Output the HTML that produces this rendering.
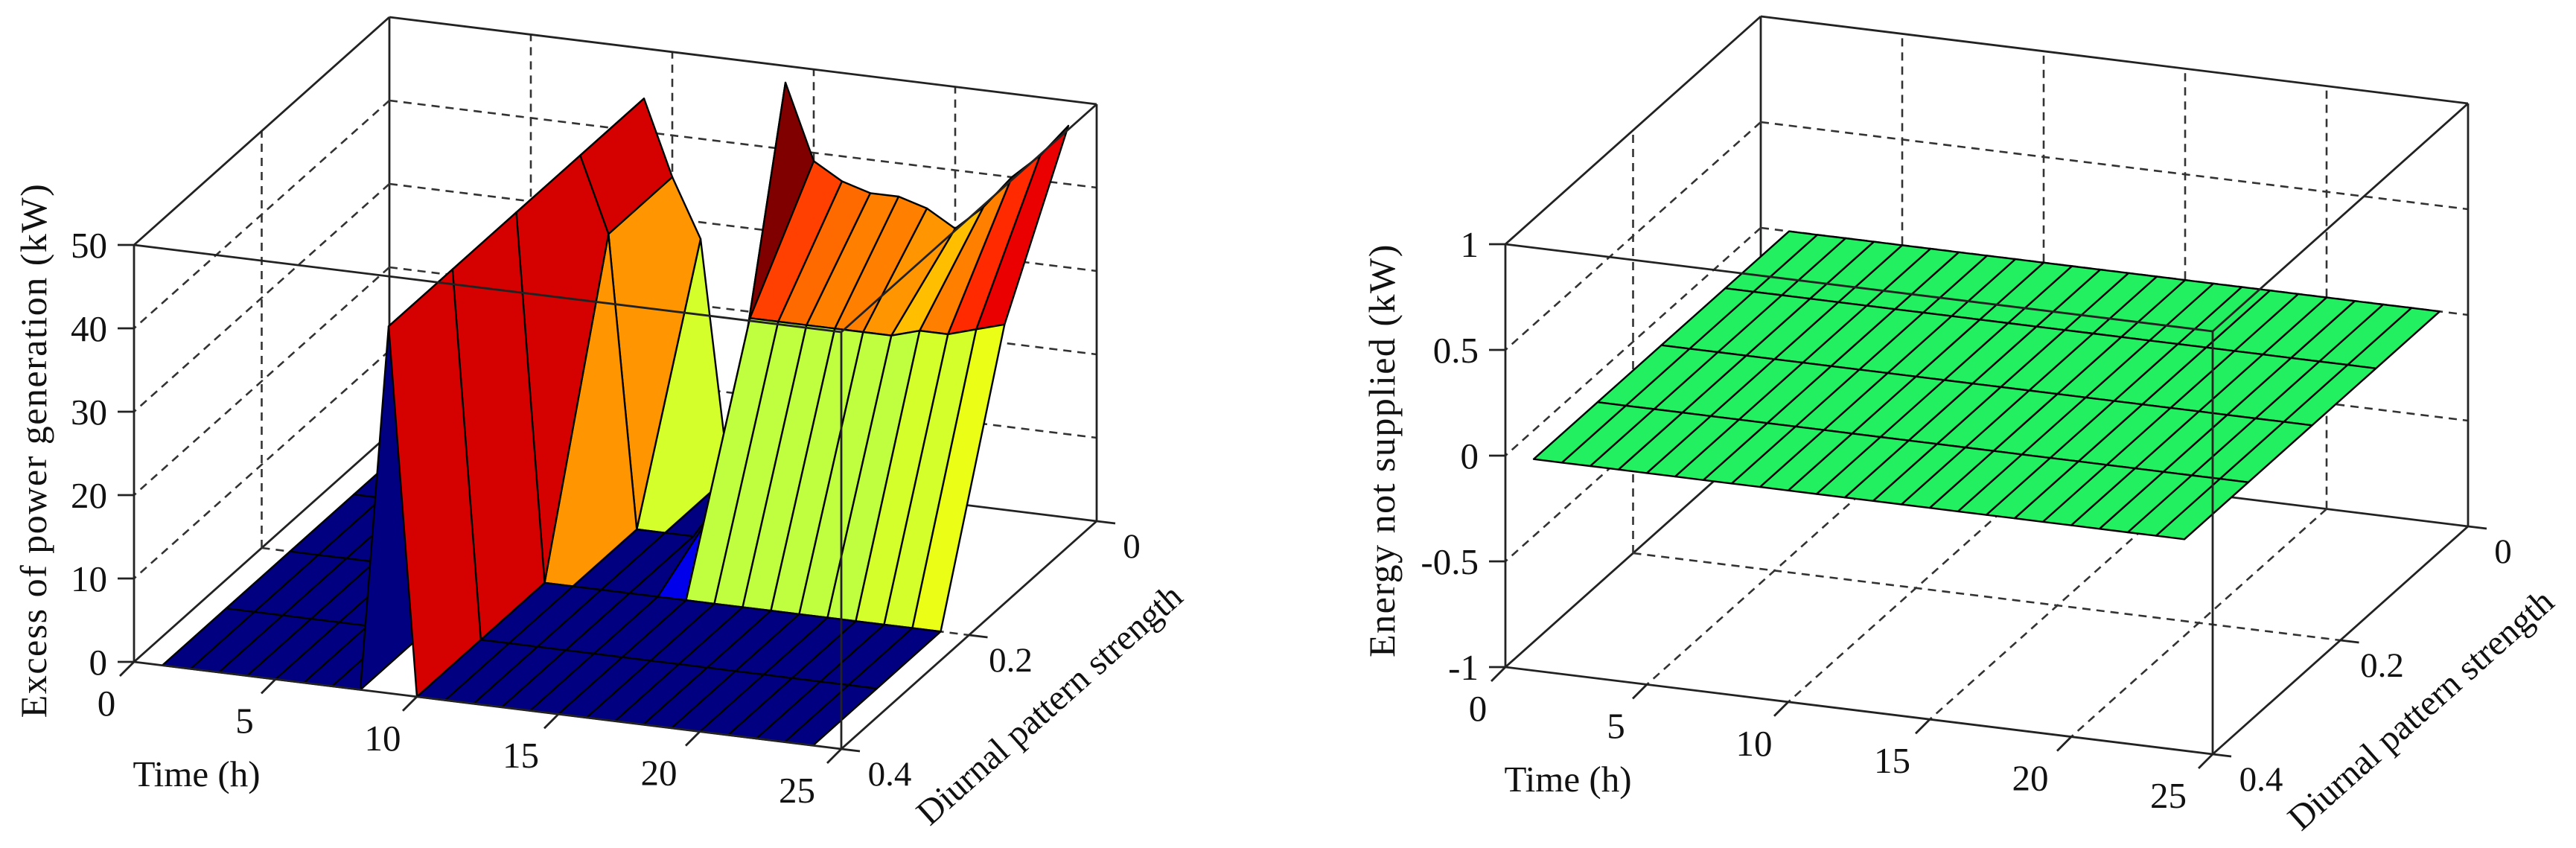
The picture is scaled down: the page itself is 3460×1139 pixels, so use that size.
<!DOCTYPE html>
<html>
<head>
<meta charset="utf-8">
<style>
  html,body{margin:0;padding:0;background:#fff;}
  svg{display:block;font-family:"Liberation Serif","DejaVu Serif",serif;}
</style>
</head>
<body>
<svg id="fig" width="3460" height="1139" viewBox="0 0 3460 1139" xmlns="http://www.w3.org/2000/svg">
  <rect x="0" y="0" width="3460" height="1139" fill="#fff"/>
  <g id="left-chart"></g>
  <g id="right-chart"></g>
</svg>
<script>
// ---------- data ----------
const timeHours = [1,2,3,4,5,6,7,8,9,10,11,12,13,14,15,16,17,18,19,20,21,22,23,24];
const strengths = [0, 0.1, 0.2, 0.3, 0.4];
const excessD00 = [0,0,0,0,0,0,0,0,44,35,28,0,0,48,39,37,36,36,35,33,36,40,43,47];
const excessD01 = [0,0,0,0,0,0,0,0,44,35,0,0,0,5,27,27,27,27,27,27,28,28,29,30];
const excessD02 = [0,0,0,0,0,0,0,0,44,0,0,0,0,0,0,0,0,0,0,0,0,0,0,0];
const excessD03 = [0,0,0,0,0,0,0,0,44,0,0,0,0,0,0,0,0,0,0,0,0,0,0,0];
const excessD04 = [0,0,0,0,0,0,0,0,44,0,0,0,0,0,0,0,0,0,0,0,0,0,0,0];
const ensD00 = [0,0,0,0,0,0,0,0,0,0,0,0,0,0,0,0,0,0,0,0,0,0,0,0];
const ensD01 = [0,0,0,0,0,0,0,0,0,0,0,0,0,0,0,0,0,0,0,0,0,0,0,0];
const ensD02 = [0,0,0,0,0,0,0,0,0,0,0,0,0,0,0,0,0,0,0,0,0,0,0,0];
const ensD03 = [0,0,0,0,0,0,0,0,0,0,0,0,0,0,0,0,0,0,0,0,0,0,0,0];
const ensD04 = [0,0,0,0,0,0,0,0,0,0,0,0,0,0,0,0,0,0,0,0,0,0,0,0];
const timeTicks = [0,5,10,15,20,25];
const strengthTicks = [0,0.2,0.4];
const strengthTickLabels = ["0","0.2","0.4"];
const excessTicks = [0,10,20,30,40,50];
const excessTickLabels = ["0","10","20","30","40","50"];
const ensTicks = [-1,-0.5,0,0.5,1];
const ensTickLabels = ["-1","-0.5","0","0.5","1"];

const NS = "http://www.w3.org/2000/svg";
function mk(tag, attrs, parent){
  const e = document.createElementNS(NS, tag);
  for (const k in attrs) e.setAttribute(k, attrs[k]);
  parent.appendChild(e);
  return e;
}
function jet(v){
  v = Math.max(0, Math.min(1, v));
  const c = x => Math.round(255*Math.max(0, Math.min(1, x)));
  return "rgb(" + c(1.5-Math.abs(4*v-3)) + "," + c(1.5-Math.abs(4*v-2)) + "," + c(1.5-Math.abs(4*v-1)) + ")";
}

function drawChart(g, cfg){
  const O = cfg.origin, EX = [950,117], EY = [343,-306], EZ = [0, cfg.height];
  const tMax = 25, dMax = 0.4;
  function P(t, d, z){
    const ft = t/tMax, fd = (dMax-d)/dMax, fz = (z-cfg.zmin)/(cfg.zmax-cfg.zmin);
    return [O[0]+ft*EX[0]+fd*EY[0]+fz*EZ[0], O[1]+ft*EX[1]+fd*EY[1]+fz*EZ[1]];
  }
  const pstr = pts => pts.map(p => p[0].toFixed(1)+","+p[1].toFixed(1)).join(" ");
  function line(a, b, dashed, name, w){
    const l = mk("line", {x1:a[0].toFixed(1), y1:a[1].toFixed(1), x2:b[0].toFixed(1), y2:b[1].toFixed(1),
      stroke: dashed ? "#333" : "#222", "stroke-width": w || (dashed ? 2.6 : 2.8)}, g);
    if (dashed) l.setAttribute("stroke-dasharray", "11 8");
    
    
    return l;
  }
  const z0 = cfg.zmin, z1 = cfg.zmax;
  line(P(0,0,z0), P(0,0,z1), false, "box-edge-back-left");
  line(P(0,0,z0), P(tMax,0,z0), false, "box-edge-back-bottom");
  line(P(0,0,z0), P(0,dMax,z0), false, "box-edge-left-bottom");
  timeTicks.forEach(t => { if (t>0 && t<tMax){ line(P(t,0,z0), P(t,0,z1), true, "grid-back-time"); line(P(t,0,z0), P(t,dMax,z0), true, "grid-floor-time"); }});
  cfg.ticks.forEach(z => { if (z>z0 && z<z1){ line(P(0,0,z), P(tMax,0,z), true, "grid-back-z"); line(P(0,0,z), P(0,dMax,z), true, "grid-left-z"); }});
  strengthTicks.forEach(d => { if (d>0 && d<dMax){ line(P(0,d,z0), P(0,d,z1), true, "grid-left-strength"); line(P(0,d,z0), P(tMax,d,z0), true, "grid-floor-strength"); }});

  const faces = [];
  for (let i=0; i<strengths.length-1; i++){
    for (let j=0; j<timeHours.length-1; j++){
      const d0 = strengths[i], d1 = strengths[i+1], t0 = timeHours[j], t1 = timeHours[j+1];
      const za = cfg.rows[i][j], zb = cfg.rows[i][j+1], zc = cfg.rows[i+1][j+1], zd = cfg.rows[i+1][j];
      const tc = (t0+t1)/2, dc = (d0+d1)/2, zc2 = (za+zb+zc+zd)/4;
      const depth = 0.34*(tMax-tc)/tMax + 0.94*(dMax-dc)/dMax - 0.25*((zc2-z0)/(z1-z0));
      faces.push({pts:[P(t0,d0,za),P(t1,d0,zb),P(t1,d1,zc),P(t0,d1,zd)], val:za, depth:depth});
    }
  }
  faces.sort((a,b) => b.depth - a.depth);
  faces.forEach(f => {
    const poly = mk("polygon", {points:pstr(f.pts), fill:cfg.color(f.val), stroke:"#000", "stroke-width":2.4, "stroke-linejoin":"round"}, g);
    
    
  });

  line(P(0,dMax,z0), P(0,dMax,z1), false, "z-axis-line");
  line(P(0,dMax,z0), P(tMax,dMax,z0), false, "time-axis-line");
  line(P(tMax,dMax,z0), P(tMax,0,z0), false, "strength-axis-line");
  line(P(tMax,dMax,z0), P(tMax,dMax,z1), false, "box-edge-front-right");
  line(P(tMax,0,z0), P(tMax,0,z1), false, "box-edge-back-right");
  line(P(0,dMax,z1), P(tMax,dMax,z1), false, "box-edge-top-front");
  line(P(0,0,z1), P(tMax,0,z1), false, "box-edge-top-back");
  line(P(0,0,z1), P(0,dMax,z1), false, "box-edge-top-left");
  line(P(tMax,0,z1), P(tMax,dMax,z1), false, "box-edge-top-right");

  cfg.ticks.forEach((z, k) => {
    const p = P(0,dMax,z);
    line([p[0]-22,p[1]], p, false, "z-tick");
    const tx = mk("text", {x:(p[0]-36).toFixed(1), y:(p[1]+17).toFixed(1), "font-size":49, "text-anchor":"end", fill:"#111"}, g);
    tx.textContent = cfg.tickLabels[k];
    
    
  });
  timeTicks.forEach(t => {
    const p = P(t,dMax,z0);
    line(p, [p[0]-19,p[1]+19], false, "time-tick");
    const tx = mk("text", {x:(p[0]-37-t*0.9).toFixed(1), y:(p[1]+72).toFixed(1), "font-size":49, "text-anchor":"middle", fill:"#111"}, g);
    tx.textContent = String(t);
    
    
  });
  strengthTicks.forEach((d, k) => {
    const p = P(tMax,d,z0);
    line(p, [p[0]+25,p[1]+3], false, "strength-tick");
    const tx = mk("text", {x:(p[0]+47+(d/dMax)*18).toFixed(1), y:(p[1]+49).toFixed(1), "font-size":47, "text-anchor":"middle", fill:"#111"}, g);
    tx.textContent = strengthTickLabels[k];
    
    
  });
  const tt = mk("text", {x:(O[0]+84).toFixed(1), y:(O[1]+167).toFixed(1), "font-size":49, "text-anchor":"middle", fill:"#111"}, g);
  tt.textContent = "Time (h)";
  
  
  const fr = P(tMax,dMax,z0);
  const sx = fr[0]+290, sy = fr[1]-48;
  const st = mk("text", {x:sx.toFixed(1), y:sy.toFixed(1), "font-size":48, "text-anchor":"middle", fill:"#111",
    transform:"rotate(-41.7 "+sx.toFixed(1)+" "+sy.toFixed(1)+")"}, g);
  st.textContent = "Diurnal pattern strength";
  
  
  const zx = cfg.zTitleX, zy = cfg.zTitleY;
  const zt = mk("text", {x:zx, y:zy, "font-size":50, "text-anchor":"middle", fill:"#111", "letter-spacing":"1.5",
    transform:"rotate(-90 "+zx+" "+zy+")"}, g);
  zt.textContent = cfg.zTitle;
  
  
}

drawChart(document.getElementById("left-chart"), {
  origin:[180,889], height:-560, zmin:0, zmax:50,
  rows:[excessD00, excessD01, excessD02, excessD03, excessD04],
  ticks:excessTicks, tickLabels:excessTickLabels,
  color: v => jet(v/48),
  zTitle:"Excess of power generation (kW)", zTitleX:62, zTitleY:605
});
drawChart(document.getElementById("right-chart"), {
  origin:[2022,896], height:-568, zmin:-1, zmax:1,
  rows:[ensD00, ensD01, ensD02, ensD03, ensD04],
  ticks:ensTicks, tickLabels:ensTickLabels,
  color: v => (Math.abs(v) < 0.05 ? "#22f060" : jet((v+1)/2)),
  zTitle:"Energy not supplied (kW)", zTitleX:1873, zTitleY:605
});
</script>
</body>
</html>
